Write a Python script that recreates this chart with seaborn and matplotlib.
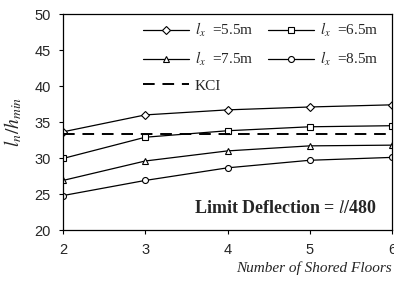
import matplotlib
matplotlib.use("Agg")
import matplotlib.pyplot as plt
import seaborn as sns
import pandas as pd

floors = [2, 3, 4, 5, 6]
span_labels = ["5.5m", "6.5m", "7.5m", "8.5m"]
ratio_55 = [33.65, 36.0, 36.7, 37.1, 37.4]
ratio_65 = [29.95, 32.9, 33.8, 34.35, 34.5]
ratio_75 = [26.9, 29.6, 31.0, 31.7, 31.8]
ratio_85 = [24.8, 26.9, 28.65, 29.7, 30.1]
kci_value = 33.4
y_ticks = [20, 25, 30, 35, 40, 45, 50]

sns.set_theme(style="ticks")
plt.rcParams["font.family"] = ["Liberation Sans", "DejaVu Sans"]
plt.rcParams["mathtext.fontset"] = "stix"

rows = []
for lab, vals in zip(span_labels, [ratio_55, ratio_65, ratio_75, ratio_85]):
    for f, v in zip(floors, vals):
        rows.append({"floors": f, "ratio": v, "span": lab})
df = pd.DataFrame(rows)

fig = plt.figure(figsize=(3.94, 2.82), dpi=100)
ax = fig.add_axes([0.160, 0.184, 0.835, 0.766])

markers = {"5.5m": "D", "6.5m": "s", "7.5m": "^", "8.5m": "o"}
msizes = {"5.5m": 3.6, "6.5m": 4.8, "7.5m": 4.8, "8.5m": 4.3}
handles = {}
for lab in span_labels:
    sub = df[df["span"] == lab]
    sns.lineplot(data=sub, x="floors", y="ratio", ax=ax, color="black",
                 linewidth=0.9, marker=markers[lab], markersize=msizes[lab],
                 markerfacecolor="white", markeredgecolor="black",
                 markeredgewidth=0.8, label=r"$l_x$ =" + lab, legend=False)
    handles[lab] = ax.lines[-1]
kline = ax.axhline(kci_value, color="black", linestyle=(0, (6, 4)), linewidth=1.4)

ax.set_xlim(2, 6)
ax.set_ylim(20, 50)
ax.set_xticks(floors)
ax.set_yticks(y_ticks)
ax.tick_params(axis="both", labelsize=10.5, length=3, width=0.8, color="black", pad=6)
for s in ax.spines.values():
    s.set_color("black")
    s.set_linewidth(0.9)

ax.set_ylabel(r"$l_n/h_{min}$", fontsize=14)
ax.yaxis.set_label_coords(-0.118, 0.5)
ax.set_xlabel("Number of Shored Floors", fontsize=11, fontstyle="italic",
              family=["Liberation Serif"], loc="right", labelpad=3)

hs = [handles["5.5m"], handles["7.5m"], kline, handles["6.5m"], handles["8.5m"]]
ls = [r"$l_x$  =5.5m", r"$l_x$  =7.5m", "KCI", r"$l_x$  =6.5m", r"$l_x$  =8.5m"]
ax.legend(hs, ls, ncol=2, loc="upper right", bbox_to_anchor=(1.0, 1.03),
          frameon=False, prop={"family": "Liberation Serif", "size": 11},
          handlelength=3.0, columnspacing=1.0, labelspacing=0.7, handletextpad=0.35)

ax.text(0.955, 0.10, r"Limit Deflection = $l$/480", transform=ax.transAxes,
        ha="right", va="center", fontsize=13, fontweight="bold",
        family=["Liberation Serif"])

fig.savefig("out.png", dpi=100)
